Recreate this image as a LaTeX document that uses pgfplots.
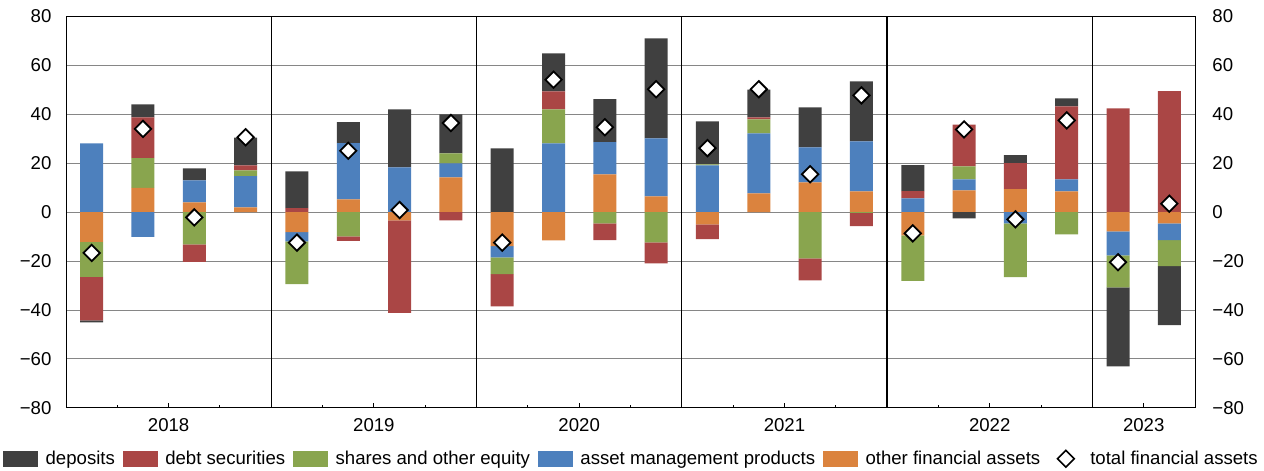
\documentclass[border=0pt]{standalone}
\usepackage{fontspec}
\setmainfont{Liberation Sans}
\usepackage{pgfplots}
\usepackage{pgfplotstable}
\pgfplotsset{compat=1.18}

\definecolor{depc}{RGB}{64,64,64}
\definecolor{debtc}{RGB}{170,70,69}
\definecolor{sharec}{RGB}{137,165,78}
\definecolor{ampc}{RGB}{77,128,189}
\definecolor{otherc}{RGB}{219,131,62}
\definecolor{gridgray}{RGB}{134,134,134}

\pgfplotstableread{
i dep debt shares amp other total
0 -0.8 -17.7 -14.3 28.0 -12.2 -16.7
1 5.3 16.6 12.2 -10.2 9.8 33.9
2 4.9 -7.2 -13.2 9.0 3.9 -2.2
3 11.4 2.0 2.4 12.7 1.9 30.5
4 15.0 1.6 -17.4 -3.8 -8.2 -12.5
5 8.6 -1.9 -9.9 22.9 5.2 25.0
6 23.7 -37.8 0.0 18.2 -3.4 0.8
7 15.9 -3.4 4.1 5.7 14.1 36.3
8 26.0 -13.1 -6.9 -4.6 -13.9 -12.5
9 15.5 7.3 13.9 28.0 -11.6 54.0
10 17.6 -6.9 -4.6 13.1 15.4 34.6
11 40.8 -8.6 -12.4 23.7 6.4 50.1
12 17.6 -6.1 0.4 19.0 -5.0 26.1
13 11.4 0.8 5.7 24.5 7.6 50.1
14 16.3 -9.0 -18.9 14.3 12.1 15.4
15 24.5 -5.4 -0.4 20.4 8.4 47.6
16 10.6 2.9 -18.6 5.6 -9.5 -8.7
17 -2.6 17.1 5.3 4.5 8.8 33.7
18 3.3 10.6 -22.0 -4.6 9.3 -3.0
19 3.3 29.8 -9.1 4.9 8.4 37.4
20 -32.2 42.3 -13.1 -9.8 -7.9 -20.5
21 -24.1 49.3 -10.6 -6.9 -4.6 3.4
}\datatable

\pgfplotsset{
  base/.style={
    at={(0,0)}, anchor=south west,
    scale only axis, width=564.5pt, height=196pt,
    xmin=-0.5, xmax=21.5, ymin=-80, ymax=80,
    ytick={-80,-60,-40,-20,0,20,40,60,80},
    yticklabels={−80,−60,−40,−20,0,20,40,60,80},
    ytick style={draw=none},
    axis line style={black, line width=0.5pt},
  },
  barsty/.style={ybar stacked, bar width=11.5pt},
}
\newcommand{\legbox}[1]{\addlegendimage{legend image code/.code={\fill[#1] (0pt,-3.65pt) rectangle (17pt,3.65pt); \path[draw=none] (21pt,0pt);}}}

\begin{document}
\fontsize{9.3}{11}\selectfont
\begin{tikzpicture}
% positive parts, grid, x axis, left labels
\begin{axis}[base, barsty,
  ymajorgrids, major grid style={draw=gridgray, line width=0.5pt},
  xtick={1.5,5.5,9.5,13.5,17.5,20.5},
  xticklabels={2018,2019,2020,2021,2022,2023},
  minor xtick={0.5,2.5,4.5,6.5,8.5,10.5,12.5,14.5,16.5,18.5},
  xtick pos=left, tick align=inside,
  major tick length=2.5pt, minor tick length=1.5pt,
  xtick style={black, line width=0.5pt},
  minor x tick style={black, line width=0.5pt},
  xticklabel style={yshift=-2pt},
  yticklabel pos=left,
  yticklabel style={xshift=-4pt},
]
\addplot[fill=otherc, draw=none] table[x=i, y expr={max(\thisrow{other},0)}] {\datatable};
\addplot[fill=ampc, draw=none] table[x=i, y expr={max(\thisrow{amp},0)}] {\datatable};
\addplot[fill=sharec, draw=none] table[x=i, y expr={max(\thisrow{shares},0)}] {\datatable};
\addplot[fill=debtc, draw=none] table[x=i, y expr={max(\thisrow{debt},0)}] {\datatable};
\addplot[fill=depc, draw=none] table[x=i, y expr={max(\thisrow{dep},0)}] {\datatable};
\end{axis}
% negative parts, right labels
\begin{axis}[base, barsty,
  hide x axis,
  yticklabel pos=right,
  yticklabel style={xshift=5.4pt},
]
\addplot[fill=otherc, draw=none] table[x=i, y expr={min(\thisrow{other},0)}] {\datatable};
\addplot[fill=ampc, draw=none] table[x=i, y expr={min(\thisrow{amp},0)}] {\datatable};
\addplot[fill=sharec, draw=none] table[x=i, y expr={min(\thisrow{shares},0)}] {\datatable};
\addplot[fill=debtc, draw=none] table[x=i, y expr={min(\thisrow{debt},0)}] {\datatable};
\addplot[fill=depc, draw=none] table[x=i, y expr={min(\thisrow{dep},0)}] {\datatable};
\end{axis}
% separators, totals, legend
\begin{axis}[base, hide axis,
  legend columns=6,
  legend cell align=left,
  legend style={draw=none, fill=none, inner sep=0pt,
    at={(0.5,-0.105)}, anchor=north,
    nodes={inner xsep=0pt, inner ysep=0pt, anchor=west},
    /tikz/every even column/.append style={column sep=4pt}},
]
\foreach \s in {3.5,7.5,11.5,15.5,19.5}{
  \edef\tmp{\noexpand\draw[black, line width=0.65pt] (axis cs:\s,-80) -- (axis cs:\s,80);}
  \tmp
}
\legbox{depc}
\addlegendentry{deposits}
\legbox{debtc}
\addlegendentry{debt securities}
\legbox{sharec}
\addlegendentry{shares and other equity}
\legbox{ampc}
\addlegendentry{asset management products}
\legbox{otherc}
\addlegendentry{other financial assets}
\addlegendimage{legend image code/.code={\path[draw=none] (0pt,0pt); \path[draw=none] (21pt,0pt);
  \draw[black, line width=0.8pt, fill=white] (8.8pt,4.2pt) -- (4.6pt,0pt) -- (8.8pt,-4.2pt) -- (13pt,0pt) -- cycle;}}
\addlegendentry{total financial assets}
\addplot[only marks, forget plot, mark=square*, mark size=2.9pt,
  mark options={rotate=45, fill=white, draw=black, line width=0.9pt}]
  table[x=i, y=total] {\datatable};
\end{axis}
\pgfresetboundingbox
\useasboundingbox (-33pt,-31.5pt) rectangle (599pt,204pt);
\end{tikzpicture}
\end{document}
